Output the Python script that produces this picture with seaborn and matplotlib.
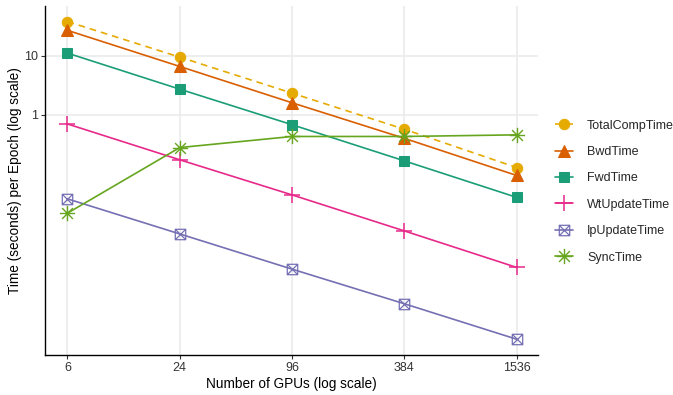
import numpy as np
import pandas as pd
import matplotlib
matplotlib.use("Agg")
import matplotlib.pyplot as plt
from matplotlib.path import Path
from matplotlib.ticker import FixedLocator, NullLocator, FixedFormatter
import seaborn as sns

gpus = [6, 24, 96, 384, 1536]
total_comp = [38, 9.5, 2.33, 0.57, 0.128]
bwd = [27, 6.6, 1.6, 0.40, 0.094]
fwd = [11.1, 2.72, 0.68, 0.166, 0.040]
wt_update = [0.70, 0.173, 0.044, 0.0108, 0.0026]
ip_update = [0.0377, 0.0096, 0.00243, 0.00063, 0.000158]
sync = [0.0216, 0.279, 0.43, 0.43, 0.458]

series_names = ["TotalCompTime", "BwdTime", "FwdTime", "WtUpdateTime", "IpUpdateTime", "SyncTime"]
series_vals = [total_comp, bwd, fwd, wt_update, ip_update, sync]
colors = ["#E6AB02", "#D95F02", "#1B9E77", "#E7298A", "#7570B3", "#66A61E"]

sns.set_theme(style="white")
plt.rcParams['font.family'] = ['Liberation Sans', 'DejaVu Sans']

boxx = Path([(-1, -1), (1, -1), (1, 1), (-1, 1), (-1, -1), (-1, -1), (1, 1), (-1, 1), (1, -1)],
            [Path.MOVETO, Path.LINETO, Path.LINETO, Path.LINETO, Path.CLOSEPOLY,
             Path.MOVETO, Path.LINETO, Path.MOVETO, Path.LINETO])
star = Path([(-1, 0), (1, 0), (0, -1), (0, 1), (-0.707, -0.707), (0.707, 0.707), (-0.707, 0.707), (0.707, -0.707)],
            [Path.MOVETO, Path.LINETO, Path.MOVETO, Path.LINETO, Path.MOVETO, Path.LINETO, Path.MOVETO, Path.LINETO])

styles = [
    dict(marker="o", markersize=7.5, linestyle=(0, (4, 3))),
    dict(marker="^", markersize=8.5, linestyle="-"),
    dict(marker="s", markersize=7.5, linestyle="-"),
    dict(marker="+", markersize=11, linestyle="-", markeredgewidth=1.1),
    dict(marker=boxx, markersize=7.5, linestyle="-", markerfacecolor="none", markeredgewidth=0.9),
    dict(marker=star, markersize=11, linestyle="-", markeredgewidth=1.0),
]

fig = plt.figure(figsize=(6.73, 3.95), dpi=100)
ax = fig.add_axes([0.067, 0.101, 0.733, 0.884])

for name, vals, col, st in zip(series_names, series_vals, colors, styles):
    df = pd.DataFrame({"gpus": gpus, "time": vals})
    kw = dict(st)
    if "markerfacecolor" not in kw and kw["marker"] != "+" and kw["marker"] is not star:
        kw["markerfacecolor"] = col
    sns.lineplot(data=df, x="gpus", y="time", color=col, linewidth=1.2, ax=ax, label=name,
                 markeredgecolor=col, **kw)

ax.set_xscale("log")
ax.set_yscale("log")
ax.set_xlim(4.55, 2010)
ax.set_ylim(8.5e-5, 70)
ax.xaxis.set_major_locator(FixedLocator(gpus))
ax.xaxis.set_major_formatter(FixedFormatter([str(g) for g in gpus]))
ax.xaxis.set_minor_locator(NullLocator())
ax.yaxis.set_major_locator(FixedLocator([1, 10]))
ax.yaxis.set_major_formatter(FixedFormatter(["1", "10"]))
ax.yaxis.set_minor_locator(NullLocator())

ax.grid(True, which="major", color="#EBEBEB", linewidth=1.2)
ax.set_axisbelow(True)
for s in ["top", "right"]:
    ax.spines[s].set_visible(False)
for s in ["left", "bottom"]:
    ax.spines[s].set_color("black")
    ax.spines[s].set_linewidth(1.0)
ax.tick_params(axis="both", which="major", direction="out", length=3, width=0.8,
               color="#333333", labelsize=9, labelcolor="#333333", pad=2, left=True, bottom=True)

ax.set_xlabel("Number of GPUs (log scale)", fontsize=9.8, color="black", labelpad=2)
ax.set_ylabel("Time (seconds) per Epoch (log scale)", fontsize=9.8, color="black")
ax.yaxis.set_label_coords(-0.047, 0.5)

leg = ax.legend(loc="center left", bbox_to_anchor=(0.825, 0.515), bbox_transform=fig.transFigure,
                frameon=False, fontsize=9, handlelength=1.45, labelspacing=1.15,
                handletextpad=1.1, borderpad=0, borderaxespad=0)

fig.savefig("out.png", dpi=100)
